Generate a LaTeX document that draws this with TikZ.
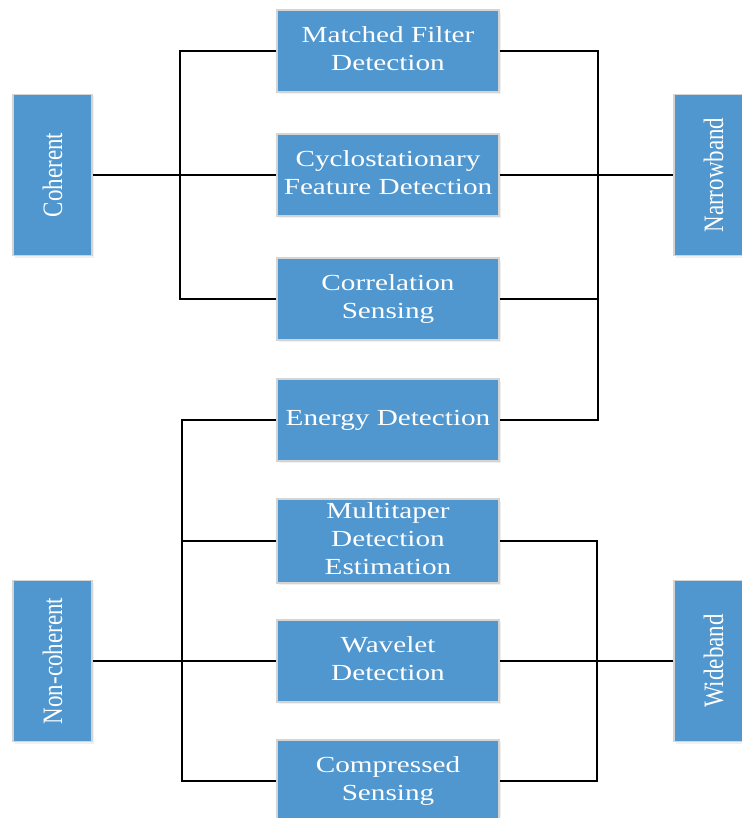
\documentclass[tikz,border=0pt]{standalone}
\usepackage{fontspec}
\setmainfont{Liberation Serif}
\usetikzlibrary{shadows}
\definecolor{boxblue}{RGB}{80,150,207}
\definecolor{boxedge}{RGB}{212,212,212}
% wide serif lettering used in every box
\newcommand{\widetext}[1]{\scalebox{1.27}[1]{\begin{tabular}{@{}c@{}}#1\end{tabular}}}
\newcommand{\sidetext}[1]{\scalebox{1}[1.22]{#1}}
\begin{document}
\begin{tikzpicture}[x=1pt,y=-1pt,
  base/.style={draw=boxedge, line width=1.5pt, fill=boxblue, text=white,
    inner sep=0pt, font=\fontsize{23}{28}\selectfont,
    drop shadow={opacity=0.12, shadow xshift=2pt, shadow yshift=-2pt}},
  method/.style={base, minimum width=222pt, minimum height=82pt},
  side/.style={base, minimum width=79pt, minimum height=161pt},
  link/.style={draw=black, line width=2.2pt}]
\useasboundingbox (0,0) rectangle (741,818);

% methods in the middle column
\node[method] (mf)  at (388,51)  {\widetext{Matched Filter\\Detection}};
\node[method] (cyc) at (388,175) {\widetext{Cyclostationary\\Feature Detection}};
\node[method] (cor) at (388,299) {\widetext{Correlation\\Sensing}};
\node[method] (en)  at (388,420) {\widetext{Energy Detection}};
\node[method] (mt)  at (388,541) {\widetext{Multitaper\\Detection\\Estimation}};
\node[method] (wv)  at (388,661) {\widetext{Wavelet\\Detection}};
\node[method] (cs)  at (388,781) {\widetext{Compressed\\Sensing}};

% categories on both sides
\node[side] (coh) at (52.5,175)  {\rotatebox{90}{\sidetext{Coherent}}};
\node[side] (nc)  at (52.5,661)  {\rotatebox{90}{\sidetext{Non-coherent}}};
\node[side] (nb)  at (713.5,175) {\rotatebox{90}{\sidetext{Narrowband}}};
\node[side] (wb)  at (713.5,661) {\rotatebox{90}{\sidetext{Wideband}}};

% trunk points of the brackets
\coordinate (lt1) at (180,175);
\coordinate (rt1) at (598,175);
\coordinate (lt2) at (182,661);
\coordinate (rt2) at (597,661);

% coherent bracket
\draw[link] (mf.west) -| (lt1) |- (cor.west);
\draw[link] (coh.east) -- (cyc.west);
% narrowband bracket
\draw[link] (mf.east) -| (rt1) |- (en.east);
\draw[link] (cor.east) -- (cor.east -| rt1);
\draw[link] (cyc.east) -- (nb.west);
% non-coherent bracket
\draw[link] (en.west) -| (lt2) |- (cs.west);
\draw[link] (mt.west) -- (mt.west -| lt2);
\draw[link] (nc.east) -- (wv.west);
% wideband bracket
\draw[link] (mt.east) -| (rt2) |- (cs.east);
\draw[link] (wv.east) -- (wb.west);
\end{tikzpicture}
\end{document}
